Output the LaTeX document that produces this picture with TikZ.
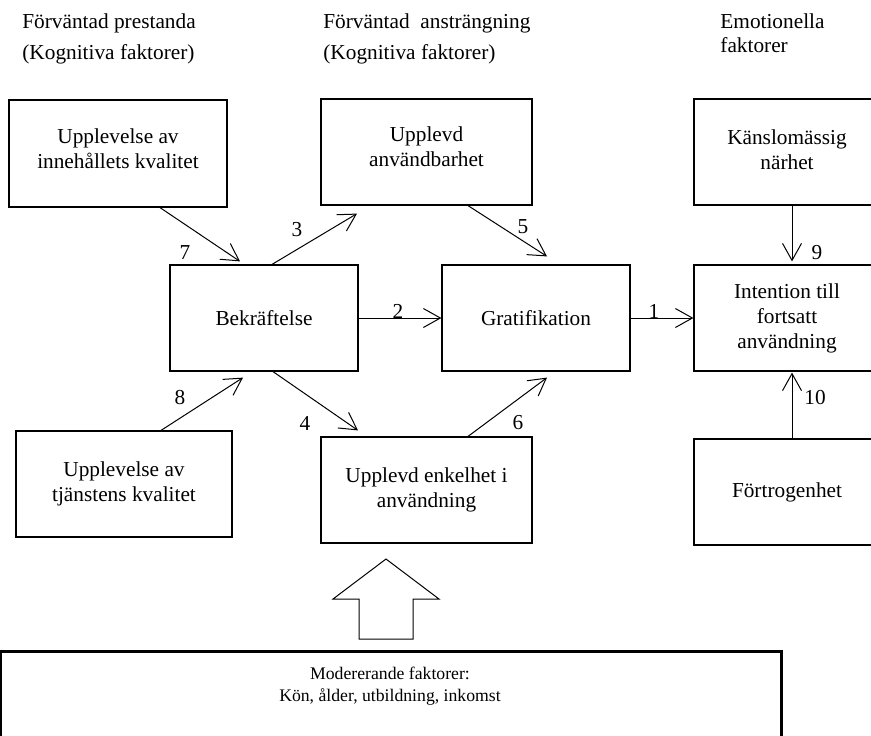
\documentclass[tikz,border=0pt]{standalone}
\usepackage{fontspec}
\setmainfont{Liberation Serif}
\usetikzlibrary{
	arrows.meta,
}
\tikzset{factor box/.style={
	draw,
	rectangle,
	inner sep=0mm,
	align=center,
	line width=0.6pt,
	minimum height=53pt,
	font=\fontsize{10.65}{12.5}\selectfont,
}}
\tikzset{path arrow/.style={
	-{Straight Barb[length=8.5pt,width=9.5pt]},
	line width=0.5pt,
}}
\tikzset{path label/.style={
	inner sep=0mm,
	font=\fontsize{10.65}{12.5}\selectfont,
}}
\tikzset{header/.style={
	anchor=base west,
	inner sep=0mm,
	font=\fontsize{10.65}{12.5}\selectfont,
}}

\begin{document}
\begin{tikzpicture}[x=0.5pt, y=-0.5pt]
\useasboundingbox (0,0) rectangle (871,735);

\node(hdrPerf)[header] at (22,28) {Förväntad prestanda};
\node(hdrPerfSub)[header] at (22,59) {(Kognitiva faktorer)};
\node(hdrEff)[header] at (323,28) {Förväntad~ ansträngning};
\node(hdrEffSub)[header] at (323,59) {(Kognitiva faktorer)};
\node(hdrEmo)[header] at (720,28) {Emotionella};
\node(hdrEmoSub)[header] at (720,52) {faktorer};

\node(inneh)[factor box, minimum width=109pt, minimum height=53.5pt, text depth=5pt] at (118,153.5) {Upplevelse av\\innehållets kvalitet};
\node(anvbar)[factor box, minimum width=105.5pt, text depth=5pt] at (426.5,152) {Upplevd\\användbarhet};
\node(kansla)[factor box, minimum width=93pt, text depth=2pt] at (787,152) {Känslomässig\\närhet};
\node(bekr)[factor box, minimum width=94pt] at (264,318) {Bekräftelse};
\node(grat)[factor box, minimum width=94pt] at (536,318) {Gratifikation};
\node(intent)[factor box, minimum width=93pt] at (787,318) {Intention till\\fortsatt\\användning};
\node(tjanst)[factor box, minimum width=108pt] at (124,484) {Upplevelse av\\tjänstens kvalitet};
\node(enkel)[factor box, minimum width=105.5pt] at (426.5,490) {Upplevd enkelhet i\\användning};
\node(fortrog)[factor box, minimum width=93pt] at (787,492) {Förtrogenhet};

\draw[path arrow] (grat) -- (intent);
\draw[path arrow] (bekr) -- (grat);
\draw[path arrow] ([shift={(8,0)}]bekr.north) -- ([shift={(-69.5,8)}]anvbar.south);
\draw[path arrow] ([shift={(9,0)}]bekr.south) -- ([shift={(-68.5,-6)}]enkel.north);
\draw[path arrow] ([shift={(41.5,0)}]anvbar.south) -- ([shift={(11,-8)}]grat.north);
\draw[path arrow] ([shift={(41.5,0)}]enkel.north) -- ([shift={(11,6)}]grat.south);
\draw[path arrow] ([shift={(42,0)}]inneh.south) -- ([shift={(-24,-3)}]bekr.north);
\draw[path arrow] ([shift={(37,0)}]tjanst.north) -- ([shift={(-21,6)}]bekr.south);
\draw[path arrow] ([shift={(5,0)}]kansla.south) -- ([shift={(5,-3)}]intent.north);
\draw[path arrow] ([shift={(5,0)}]fortrog.north) -- ([shift={(5,1)}]intent.south);

\foreach \n/\x/\y in {1/654/311, 2/398/311, 3/297/230, 4/305/423, 5/523/227,
	6/518/423, 7/185/253, 8/180/398, 9/817/253, 10/815/398}
\node(lbl\n)[path label] at (\x,\y) {\n};

% moderating factors
\draw[line width=0.5pt] (386,559) -- (439,599) -- (413,599) -- (413,639)
	-- (359,639) -- (359,599) -- (333,599) -- cycle;
\draw[line width=1.5pt] (0,760) |- (781,651) -- (781,760);
\node(moder)[factor box, draw=none, minimum height=0pt, font=\fontsize{8.85}{11}\selectfont] at (390,686) {Modererande faktorer:\\Kön, ålder, utbildning, inkomst};

\end{tikzpicture}
\end{document}
